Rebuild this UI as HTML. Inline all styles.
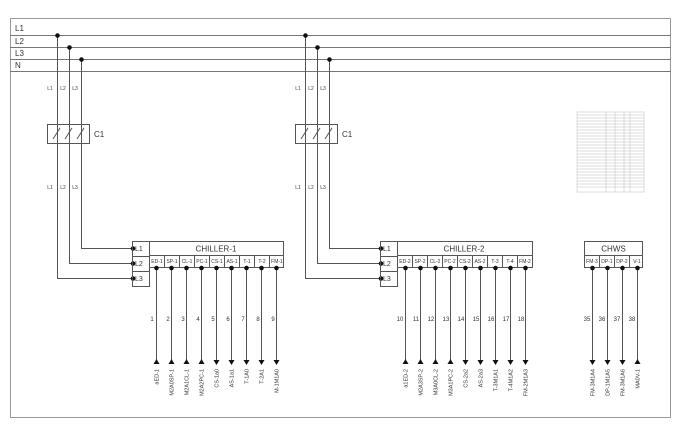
<!DOCTYPE html>
<html><head><meta charset="utf-8"><style>
html,body{margin:0;padding:0;background:#fff;}
svg{display:block;font-family:"Liberation Sans",sans-serif;}
</style></head><body>
<svg width="680" height="425" viewBox="0 0 680 425" xmlns="http://www.w3.org/2000/svg">
<rect x="10.5" y="18.5" width="660" height="399" fill="none" stroke="#999" stroke-width="1"/>
<g stroke="#777" stroke-width="1">
<line x1="10" y1="35.5" x2="671" y2="35.5"/>
<line x1="10" y1="47.5" x2="671" y2="47.5"/>
<line x1="10" y1="59.5" x2="671" y2="59.5"/>
<line x1="10" y1="71.5" x2="671" y2="71.5"/>
</g>
<g font-size="8" fill="#333">
<text x="15" y="31">L1</text><text x="15" y="44">L2</text><text x="15" y="56">L3</text><text x="15" y="68">N</text>
</g>

<!-- Group 1 -->
<g id="g1">
<g stroke="#555" stroke-width="1" fill="none">
<polyline points="57.5,35 57.5,278.5 132,278.5"/>
<polyline points="69.5,47 69.5,263.5 132,263.5"/>
<polyline points="81.5,59 81.5,248.5 132,248.5"/>
</g>
<rect x="47.5" y="124.5" width="42" height="19" fill="#fff" stroke="#555"/>
<g stroke="#555"><line x1="57.5" y1="124" x2="57.5" y2="144"/><line x1="69.5" y1="124" x2="69.5" y2="144"/><line x1="81.5" y1="124" x2="81.5" y2="144"/>
<line x1="53" y1="139" x2="60" y2="128"/><line x1="65" y1="139" x2="72" y2="128"/><line x1="77" y1="139" x2="84" y2="128"/></g>
<text x="94" y="137" font-size="8" fill="#333">C1</text>
<g font-size="5" fill="#444" text-anchor="middle">
<text x="50" y="90">L1</text><text x="63" y="90">L2</text><text x="75" y="90">L3</text>
<text x="50" y="189">L1</text><text x="63" y="189">L2</text><text x="75" y="189">L3</text>
</g>
<g fill="#111"><circle cx="57.5" cy="35.5" r="2.3"/><circle cx="69.5" cy="47.5" r="2.3"/><circle cx="81.5" cy="59.5" r="2.3"/>
<circle cx="133" cy="248.5" r="2.3"/><circle cx="133" cy="263.5" r="2.3"/><circle cx="133" cy="278.5" r="2.3"/></g>
<g fill="none" stroke="#555"><rect x="132.5" y="241.5" width="17" height="45"/><line x1="132" y1="256.5" x2="150" y2="256.5"/><line x1="132" y1="271.5" x2="150" y2="271.5"/>
<rect x="149.5" y="241.5" width="134" height="26"/><line x1="150" y1="255.5" x2="284" y2="255.5"/></g>
<g font-size="7" fill="#333"><text x="135" y="251">L1</text><text x="135" y="266">L2</text><text x="135" y="281">L3</text></g>
<text x="216" y="251.5" font-size="8" fill="#333" text-anchor="middle">CHILLER-1</text>
</g>
<!-- group1 subcells -->
<g stroke="#555"><line x1="164.5" y1="255" x2="164.5" y2="268"/><line x1="179.5" y1="255" x2="179.5" y2="268"/><line x1="194.5" y1="255" x2="194.5" y2="268"/><line x1="209.5" y1="255" x2="209.5" y2="268"/><line x1="224.5" y1="255" x2="224.5" y2="268"/><line x1="239.5" y1="255" x2="239.5" y2="268"/><line x1="254.5" y1="255" x2="254.5" y2="268"/><line x1="269.5" y1="255" x2="269.5" y2="268"/></g>
<g font-size="5" fill="#333" text-anchor="middle">
<text x="157" y="263">ED-1</text><text x="172" y="263">SP-1</text><text x="187" y="263">CL-1</text><text x="202" y="263">PC-1</text><text x="217" y="263">CS-1</text><text x="232" y="263">AS-1</text><text x="247" y="263">T-1</text><text x="262" y="263">T-2</text><text x="277" y="263">FM-1</text>
</g>
<g stroke="#555"><line x1="156.5" y1="268" x2="156.5" y2="362"/><line x1="171.5" y1="268" x2="171.5" y2="362"/><line x1="186.5" y1="268" x2="186.5" y2="362"/><line x1="201.5" y1="268" x2="201.5" y2="362"/><line x1="216.5" y1="268" x2="216.5" y2="362"/><line x1="231.5" y1="268" x2="231.5" y2="362"/><line x1="246.5" y1="268" x2="246.5" y2="362"/><line x1="261.5" y1="268" x2="261.5" y2="362"/><line x1="276.5" y1="268" x2="276.5" y2="362"/></g>
<g fill="#111">
<circle cx="156.5" cy="268" r="2.3"/><circle cx="171.5" cy="268" r="2.3"/><circle cx="186.5" cy="268" r="2.3"/><circle cx="201.5" cy="268" r="2.3"/><circle cx="216.5" cy="268" r="2.3"/><circle cx="231.5" cy="268" r="2.3"/><circle cx="246.5" cy="268" r="2.3"/><circle cx="261.5" cy="268" r="2.3"/><circle cx="276.5" cy="268" r="2.3"/>
<polygon points="153.5,364 159.5,364 156.5,359"/><polygon points="168.5,364 174.5,364 171.5,359"/><polygon points="183.5,364 189.5,364 186.5,359"/><polygon points="198.5,364 204.5,364 201.5,359"/>
<polygon points="213.5,360 219.5,360 216.5,365"/><polygon points="228.5,360 234.5,360 231.5,365"/><polygon points="243.5,360 249.5,360 246.5,365"/><polygon points="258.5,360 264.5,360 261.5,365"/><polygon points="273.5,360 279.5,360 276.5,365"/>
</g>
<g font-size="6" fill="#333" text-anchor="middle">
<text x="152" y="321">1</text><text x="168" y="321">2</text><text x="183" y="321">3</text><text x="198" y="321">4</text><text x="213" y="321">5</text><text x="228" y="321">6</text><text x="243" y="321">7</text><text x="258" y="321">8</text><text x="273" y="321">9</text>
</g>
<g font-size="5.5" fill="#333" text-anchor="end">
<text transform="translate(158.5,369) rotate(-90)">aED-1</text>
<text transform="translate(173.5,369) rotate(-90)">M2A0SP-1</text>
<text transform="translate(188.5,369) rotate(-90)">M2A1CL-1</text>
<text transform="translate(203.5,369) rotate(-90)">M2A2PC-1</text>
<text transform="translate(218.5,369) rotate(-90)">CS-1a0</text>
<text transform="translate(233.5,369) rotate(-90)">AS-1a1</text>
<text transform="translate(248.5,369) rotate(-90)">T-1A0</text>
<text transform="translate(263.5,369) rotate(-90)">T-2A1</text>
<text transform="translate(278.5,369) rotate(-90)">M-1M1A0</text>
</g>

<!-- Group 2 -->
<g transform="translate(248,0)">
<g stroke="#555" stroke-width="1" fill="none">
<polyline points="57.5,35 57.5,278.5 132,278.5"/>
<polyline points="69.5,47 69.5,263.5 132,263.5"/>
<polyline points="81.5,59 81.5,248.5 132,248.5"/>
</g>
<rect x="47.5" y="124.5" width="42" height="19" fill="#fff" stroke="#555"/>
<g stroke="#555"><line x1="57.5" y1="124" x2="57.5" y2="144"/><line x1="69.5" y1="124" x2="69.5" y2="144"/><line x1="81.5" y1="124" x2="81.5" y2="144"/>
<line x1="53" y1="139" x2="60" y2="128"/><line x1="65" y1="139" x2="72" y2="128"/><line x1="77" y1="139" x2="84" y2="128"/></g>
<text x="94" y="137" font-size="8" fill="#333">C1</text>
<g font-size="5" fill="#444" text-anchor="middle">
<text x="50" y="90">L1</text><text x="63" y="90">L2</text><text x="75" y="90">L3</text>
<text x="50" y="189">L1</text><text x="63" y="189">L2</text><text x="75" y="189">L3</text>
</g>
<g fill="#111"><circle cx="57.5" cy="35.5" r="2.3"/><circle cx="69.5" cy="47.5" r="2.3"/><circle cx="81.5" cy="59.5" r="2.3"/>
<circle cx="133" cy="248.5" r="2.3"/><circle cx="133" cy="263.5" r="2.3"/><circle cx="133" cy="278.5" r="2.3"/></g>
<g fill="none" stroke="#555"><rect x="132.5" y="241.5" width="17" height="45"/><line x1="132" y1="256.5" x2="150" y2="256.5"/><line x1="132" y1="271.5" x2="150" y2="271.5"/>
<rect x="149.5" y="241.5" width="135" height="26"/><line x1="150" y1="255.5" x2="285" y2="255.5"/></g>
<g font-size="7" fill="#333"><text x="135" y="251">L1</text><text x="135" y="266">L2</text><text x="135" y="281">L3</text></g>
<text x="216" y="251.5" font-size="8" fill="#333" text-anchor="middle">CHILLER-2</text>
<g stroke="#555"><line x1="164.5" y1="255" x2="164.5" y2="268"/><line x1="179.5" y1="255" x2="179.5" y2="268"/><line x1="194.5" y1="255" x2="194.5" y2="268"/><line x1="209.5" y1="255" x2="209.5" y2="268"/><line x1="224.5" y1="255" x2="224.5" y2="268"/><line x1="239.5" y1="255" x2="239.5" y2="268"/><line x1="254.5" y1="255" x2="254.5" y2="268"/><line x1="269.5" y1="255" x2="269.5" y2="268"/></g>
<g font-size="5" fill="#333" text-anchor="middle">
<text x="157" y="263">ED-2</text><text x="172" y="263">SP-2</text><text x="187" y="263">CL-2</text><text x="202" y="263">PC-2</text><text x="217" y="263">CS-2</text><text x="232" y="263">AS-2</text><text x="247" y="263">T-3</text><text x="262" y="263">T-4</text><text x="277" y="263">FM-2</text>
</g>
<g stroke="#555"><line x1="157.5" y1="268" x2="157.5" y2="362"/><line x1="172.5" y1="268" x2="172.5" y2="362"/><line x1="187.5" y1="268" x2="187.5" y2="362"/><line x1="202.5" y1="268" x2="202.5" y2="362"/><line x1="217.5" y1="268" x2="217.5" y2="362"/><line x1="232.5" y1="268" x2="232.5" y2="362"/><line x1="247.5" y1="268" x2="247.5" y2="362"/><line x1="262.5" y1="268" x2="262.5" y2="362"/><line x1="277.5" y1="268" x2="277.5" y2="362"/></g>
<g fill="#111">
<circle cx="157.5" cy="268" r="2.3"/><circle cx="172.5" cy="268" r="2.3"/><circle cx="187.5" cy="268" r="2.3"/><circle cx="202.5" cy="268" r="2.3"/><circle cx="217.5" cy="268" r="2.3"/><circle cx="232.5" cy="268" r="2.3"/><circle cx="247.5" cy="268" r="2.3"/><circle cx="262.5" cy="268" r="2.3"/><circle cx="277.5" cy="268" r="2.3"/>
<polygon points="154.5,364 160.5,364 157.5,359"/><polygon points="169.5,364 175.5,364 172.5,359"/><polygon points="184.5,364 190.5,364 187.5,359"/><polygon points="199.5,364 205.5,364 202.5,359"/>
<polygon points="214.5,360 220.5,360 217.5,365"/><polygon points="229.5,360 235.5,360 232.5,365"/><polygon points="244.5,360 250.5,360 247.5,365"/><polygon points="259.5,360 265.5,360 262.5,365"/><polygon points="274.5,360 280.5,360 277.5,365"/>
</g>
<g font-size="6" fill="#333" text-anchor="middle">
<text x="152" y="321">10</text><text x="168" y="321">11</text><text x="183" y="321">12</text><text x="198" y="321">13</text><text x="213" y="321">14</text><text x="228" y="321">15</text><text x="243" y="321">16</text><text x="258" y="321">17</text><text x="273" y="321">18</text>
</g>
<g font-size="5.5" fill="#333" text-anchor="end">
<text transform="translate(159.5,369) rotate(-90)">a1ED-2</text>
<text transform="translate(174.5,369) rotate(-90)">M2A3SP-2</text>
<text transform="translate(189.5,369) rotate(-90)">M3A0CL-2</text>
<text transform="translate(204.5,369) rotate(-90)">M3A1PC-2</text>
<text transform="translate(219.5,369) rotate(-90)">CS-2a2</text>
<text transform="translate(234.5,369) rotate(-90)">AS-2a3</text>
<text transform="translate(249.5,369) rotate(-90)">T-3M1A1</text>
<text transform="translate(264.5,369) rotate(-90)">T-4M1A2</text>
<text transform="translate(279.5,369) rotate(-90)">FM-2M1A3</text>
</g>
</g>

<!-- CHWS -->
<g fill="none" stroke="#555"><rect x="584.5" y="241.5" width="58" height="26"/><line x1="585" y1="255.5" x2="643" y2="255.5"/>
<line x1="599.5" y1="255" x2="599.5" y2="268"/><line x1="614.5" y1="255" x2="614.5" y2="268"/><line x1="629.5" y1="255" x2="629.5" y2="268"/>
<line x1="592.5" y1="268" x2="592.5" y2="362"/><line x1="607.5" y1="268" x2="607.5" y2="362"/><line x1="622.5" y1="268" x2="622.5" y2="362"/><line x1="637.5" y1="268" x2="637.5" y2="362"/></g>
<text x="613.5" y="251.5" font-size="8" fill="#333" text-anchor="middle">CHWS</text>
<g font-size="5" fill="#333" text-anchor="middle"><text x="592" y="263">FM-3</text><text x="607" y="263">DP-1</text><text x="622" y="263">DP-2</text><text x="637" y="263">V-1</text></g>
<g fill="#111"><circle cx="592.5" cy="268" r="2.3"/><circle cx="607.5" cy="268" r="2.3"/><circle cx="622.5" cy="268" r="2.3"/><circle cx="637.5" cy="268" r="2.3"/>
<polygon points="589.5,360 595.5,360 592.5,365"/><polygon points="604.5,360 610.5,360 607.5,365"/><polygon points="619.5,360 625.5,360 622.5,365"/><polygon points="634.5,364 640.5,364 637.5,359"/></g>
<g font-size="6" fill="#333" text-anchor="middle"><text x="587" y="321">35</text><text x="602" y="321">36</text><text x="617" y="321">37</text><text x="632" y="321">38</text></g>
<g font-size="5.5" fill="#333" text-anchor="end">
<text transform="translate(594.5,369) rotate(-90)">FM-3M1A4</text>
<text transform="translate(609.5,369) rotate(-90)">DP-1M1A5</text>
<text transform="translate(624.5,369) rotate(-90)">FM-3M1A6</text>
<text transform="translate(639.5,369) rotate(-90)">MA0V-1</text>
</g>

<!-- small table -->
<g stroke="#bbb" stroke-width="0.5" fill="none">
<rect x="577" y="112" width="67" height="80"/>
<line x1="606" y1="112" x2="606" y2="192"/><line x1="615" y1="112" x2="615" y2="192"/><line x1="624" y1="112" x2="624" y2="192"/><line x1="630" y1="112" x2="630" y2="192"/>
<line x1="577" y1="115" x2="644" y2="115"/><line x1="577" y1="118" x2="644" y2="118"/><line x1="577" y1="121" x2="644" y2="121"/><line x1="577" y1="124" x2="644" y2="124"/><line x1="577" y1="127" x2="644" y2="127"/><line x1="577" y1="130" x2="644" y2="130"/><line x1="577" y1="133" x2="644" y2="133"/><line x1="577" y1="136" x2="644" y2="136"/><line x1="577" y1="139" x2="644" y2="139"/><line x1="577" y1="142" x2="644" y2="142"/><line x1="577" y1="145" x2="644" y2="145"/><line x1="577" y1="148" x2="644" y2="148"/><line x1="577" y1="151" x2="644" y2="151"/><line x1="577" y1="154" x2="644" y2="154"/><line x1="577" y1="157" x2="644" y2="157"/><line x1="577" y1="160" x2="644" y2="160"/><line x1="577" y1="163" x2="644" y2="163"/><line x1="577" y1="166" x2="644" y2="166"/><line x1="577" y1="169" x2="644" y2="169"/><line x1="577" y1="172" x2="644" y2="172"/><line x1="577" y1="175" x2="644" y2="175"/><line x1="577" y1="178" x2="644" y2="178"/><line x1="577" y1="181" x2="644" y2="181"/><line x1="577" y1="184" x2="644" y2="184"/><line x1="577" y1="187" x2="644" y2="187"/>
</g>
</svg>
</body></html>
